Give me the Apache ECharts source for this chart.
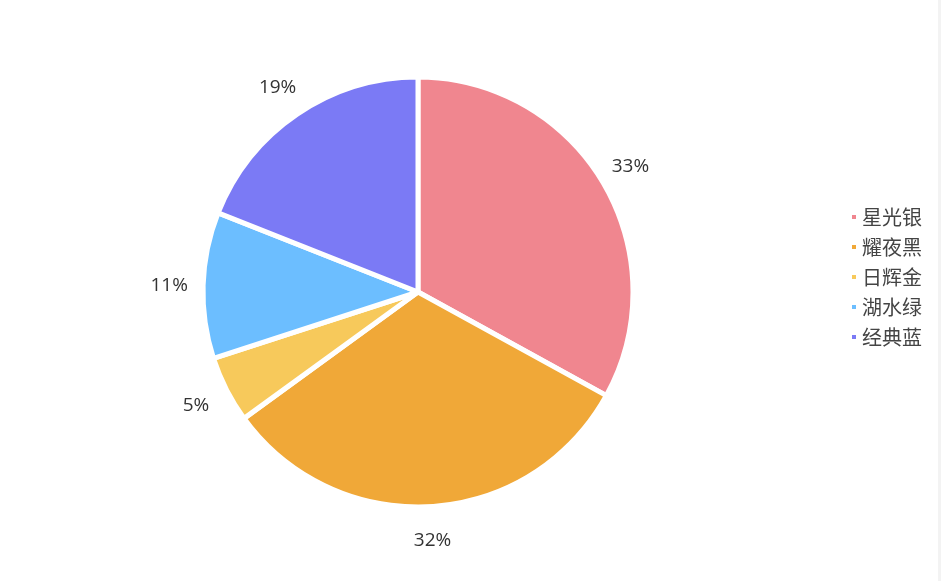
<!DOCTYPE html>
<html>
<head>
<meta charset="utf-8">
<script src="https://cdn.jsdelivr.net/npm/echarts@6/dist/echarts.min.js"></script>
<style>
html,body{margin:0;padding:0;background:#f3f3f3;}
#c{width:938px;height:581px;background:#fff;}
</style>
</head>
<body>
<div id="c"></div>
<script>
var categories = ['星光银', '耀夜黑', '日辉金', '湖水绿', '经典蓝'];
var values = [33, 32, 5, 11, 19];
var colors = ['#F0868F', '#F0A838', '#F7C95B', '#6CBEFF', '#7B7AF5'];

var pieData = categories.map(function (n, i) { return { name: n, value: values[i] }; });
var chart = echarts.init(document.getElementById('c'));
chart.setOption({
  animation: false,
  color: colors,
  textStyle: { fontFamily: '"Noto Sans CJK SC", "Noto Sans", sans-serif' },
  legend: {
    orient: 'vertical',
    right: 11,
    top: 202,
    icon: 'rect',
    itemWidth: 6,
    itemHeight: 6,
    itemGap: 10,
    textStyle: { fontSize: 20, color: '#444' },
    data: categories
  },
  series: [{
    type: 'pie',
    center: [418, 292],
    radius: 215,
    startAngle: 90,
    itemStyle: { borderColor: '#fff', borderWidth: 5 },
    label: { show: false },
    labelLine: { show: false },
    data: pieData
  }, {
    type: 'pie',
    silent: true,
    center: [417, 293],
    radius: [215, 275],
    startAngle: 90,
    itemStyle: { color: 'transparent', borderWidth: 0 },
    label: {
      show: true,
      position: 'inside',
      fontSize: 19,
      color: '#333',
      fontFamily: '"Open Sans", "Noto Sans", sans-serif',
      formatter: function (p) { return Math.round(p.percent) + '%'; }
    },
    labelLine: { show: false },
    emphasis: { disabled: true },
    data: pieData
  }]
});
</script>
</body>
</html>
